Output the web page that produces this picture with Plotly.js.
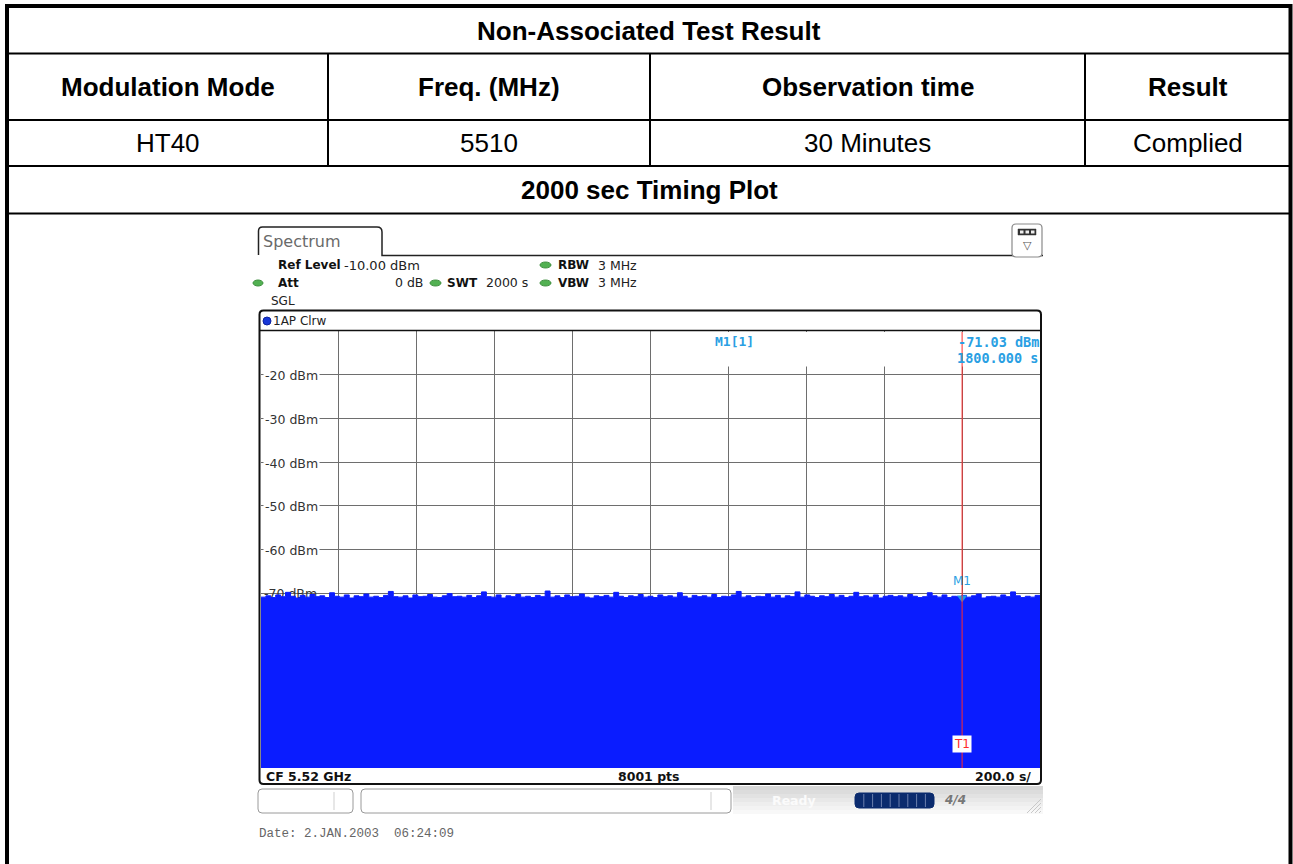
<!DOCTYPE html>
<html><head><meta charset="utf-8">
<script src="https://cdn.plot.ly/plotly-3.0.1.min.js"></script>
<style>html,body{margin:0;padding:0;background:#fff;overflow:hidden}#chart{width:1293px;height:864px}</style>
</head><body><div id="chart"></div>
<script>
// ---------------- data ----------------
const tableTitle = 'Non-Associated Test Result';
const headerLabels = ['Modulation Mode', 'Freq. (MHz)', 'Observation time', 'Result'];
const rowValues = ['HT40', '5510', '30 Minutes', 'Complied'];
const sectionTitle = '2000 sec Timing Plot';

const sweepTimeS = 2000;          // SWT
const timePerDivS = 200;          // 200.0 s/
const refLevelDbm = -10;          // Ref Level
const floorDbm = -110;            // bottom of the grid
const dbPerDiv = 10;
const yLabelValues = [-20, -30, -40, -50, -60, -70];
const yLabelTexts = ['-20 dBm', '-30 dBm', '-40 dBm', '-50 dBm', '-60 dBm', '-70 dBm'];

const markerTimeS = 1800;
const markerLevelDbm = -71.03;

// noise floor trace (dBm), evenly spread over the 2000 s sweep
const traceDbm = [
-70.9,-70.6,-71.0,-70.4,-70.8,-69.8,-70.7,-71.1,-70.5,-70.9,
-70.3,-70.8,-70.6,-71.0,-69.9,-70.7,-70.9,-70.4,-71.1,-70.6,
-70.8,-70.2,-70.9,-70.7,-71.0,-70.5,-69.6,-70.8,-70.9,-70.6,
-71.1,-70.4,-70.8,-70.7,-70.3,-70.9,-71.0,-70.6,-70.1,-70.8,
-70.7,-70.9,-70.5,-71.0,-70.6,-69.7,-70.8,-70.9,-70.4,-71.1,
-70.6,-70.8,-70.3,-70.9,-70.7,-71.0,-70.5,-70.8,-69.5,-70.9,
-70.6,-71.0,-70.4,-70.8,-70.7,-70.2,-70.9,-71.1,-70.6,-70.8,
-70.5,-70.9,-69.8,-70.7,-71.0,-70.6,-70.8,-70.3,-70.9,-70.7,
-71.0,-70.4,-70.8,-70.6,-70.9,-69.9,-70.7,-71.1,-70.5,-70.8,
-70.6,-70.9,-70.3,-71.0,-70.7,-70.8,-70.4,-69.6,-70.9,-70.6,
-71.0,-70.7,-70.8,-70.2,-70.9,-70.5,-71.1,-70.6,-70.8,-69.7,
-70.9,-70.4,-70.7,-71.0,-70.6,-70.8,-70.3,-70.9,-70.5,-71.0,
-70.7,-69.8,-70.8,-70.6,-70.9,-70.4,-71.1,-70.7,-70.5,-70.8,
-70.6,-70.9,-70.3,-70.7,-71.0,-70.8,-69.9,-70.6,-70.9,-70.4,
-71.0,-70.7,-70.8,-70.5,-70.9,-70.6,-70.2,-71.1,-70.8,-70.7,
-70.9,-70.4,-70.8,-69.7,-70.6,-71.0,-70.7,-70.9,-70.5,-70.8
];

// ---------------- geometry helpers ----------------
const FIG_W = 1293, FIG_H = 864;
const PL = 261, PR = 1040, PT = 331, PB = 768;   // plot area in pixels
const PW = PR - PL, PH = PB - PT;
const px = x => (x - PL) / PW;
const py = y => 1 - (y - PT) / PH;

const TABLE_FONT = 'Liberation Sans, Arial, sans-serif';
const UI_FONT = 'DejaVu Sans, Verdana, sans-serif';
const MONO_FONT = 'Liberation Mono, Courier New, monospace';
const TABLE_SIZE = 26;

const shapes = [];
const annotations = [];

function line(x0, y0, x1, y1, color, width, layer) {
  shapes.push({type: 'line', xref: 'paper', yref: 'paper', x0: px(x0), y0: py(y0), x1: px(x1), y1: py(y1),
    line: {color: color, width: width}, layer: layer || 'above'});
}
function rect(x0, y0, x1, y1, fill, lineColor, lineWidth, layer) {
  shapes.push({type: 'rect', xref: 'paper', yref: 'paper', x0: px(x0), y0: py(y0), x1: px(x1), y1: py(y1),
    fillcolor: fill, line: {color: lineColor || 'rgba(0,0,0,0)', width: lineWidth || 0}, layer: layer || 'above'});
}
function ellipse(x0, y0, x1, y1, fill, lineColor) {
  shapes.push({type: 'circle', xref: 'paper', yref: 'paper', x0: px(x0), y0: py(y0), x1: px(x1), y1: py(y1),
    fillcolor: fill, line: {color: lineColor || fill, width: 1}, layer: 'above'});
}
function roundRectPath(x0, y0, x1, y1, r) {
  const P = (x, y) => px(x) + ',' + py(y);
  return 'M' + P(x0 + r, y0) + ' L' + P(x1 - r, y0) + ' Q' + P(x1, y0) + ' ' + P(x1, y0 + r) +
    ' L' + P(x1, y1 - r) + ' Q' + P(x1, y1) + ' ' + P(x1 - r, y1) +
    ' L' + P(x0 + r, y1) + ' Q' + P(x0, y1) + ' ' + P(x0, y1 - r) +
    ' L' + P(x0, y0 + r) + ' Q' + P(x0, y0) + ' ' + P(x0 + r, y0) + ' Z';
}
function roundRect(x0, y0, x1, y1, r, fill, lineColor, width) {
  shapes.push({type: 'path', xref: 'paper', yref: 'paper', path: roundRectPath(x0, y0, x1, y1, r),
    fillcolor: fill, line: {color: lineColor, width: width}, layer: 'above'});
}
function text(x, y, t, size, color, family, anchor, extra) {
  annotations.push(Object.assign({xref: 'paper', yref: 'paper', x: px(x), y: py(y), text: t, showarrow: false,
    xanchor: anchor || 'left', yanchor: 'middle', borderpad: 0,
    font: {family: family || UI_FONT, size: size, color: color || '#000'}}, extra || {}));
}

// ---------------- table ----------------
const colEdges = [7, 328, 650, 1085, 1290.5];
const rowEdges = [6, 53.5, 120, 166, 213.5];
line(7, 6, 1290.5, 6, '#000', 4);
line(7, 4, 7, 880, '#000', 4);
line(1290.5, 4, 1290.5, 880, '#000', 4);
for (let i = 1; i < rowEdges.length; i++) line(7, rowEdges[i], 1290.5, rowEdges[i], '#000', 2);
for (let i = 1; i < colEdges.length - 1; i++) line(colEdges[i], rowEdges[1], colEdges[i], rowEdges[3], '#000', 2);

text(649, (rowEdges[0] + rowEdges[1]) / 2 + 1, '<b>' + tableTitle + '</b>', TABLE_SIZE, '#000', TABLE_FONT, 'center');
headerLabels.forEach((h, i) => text((colEdges[i] + colEdges[i + 1]) / 2, (rowEdges[1] + rowEdges[2]) / 2, '<b>' + h + '</b>', TABLE_SIZE, '#000', TABLE_FONT, 'center'));
rowValues.forEach((v, i) => text((colEdges[i] + colEdges[i + 1]) / 2, (rowEdges[2] + rowEdges[3]) / 2, v, TABLE_SIZE, '#000', TABLE_FONT, 'center'));
text(649, (rowEdges[3] + rowEdges[4]) / 2, '<b>' + sectionTitle + '</b>', TABLE_SIZE, '#000', TABLE_FONT, 'center');

// ---------------- analyzer screenshot chrome ----------------
(function () {
  const P = (x, y) => px(x) + ',' + py(y);
  shapes.push({type: 'path', xref: 'paper', yref: 'paper', layer: 'above',
    path: 'M' + P(258.5, 255) + ' L' + P(258.5, 231) + ' Q' + P(258.5, 227) + ' ' + P(262.5, 227) +
      ' L' + P(377, 227) + ' Q' + P(382, 227) + ' ' + P(382, 232) + ' L' + P(382, 255.5) + ' L' + P(1043, 255.5),
    line: {color: '#222', width: 1.5}});
})();
text(262, 241, 'Spectrum', 16, '#6a6a6a', UI_FONT, 'left');
roundRect(1012, 224, 1042, 257, 4, '#ffffff', '#8a8a8a', 1.2);
rect(1018, 229, 1036, 235, '#333', '#333', 0.5);
for (let k = 0; k < 3; k++) rect(1020 + k * 5.5, 230.5, 1023.5 + k * 5.5, 233.5, '#eee', '#eee', 0);
text(1027, 245, '▽', 11, '#555', UI_FONT, 'center');

const green = '#52b152';
text(277, 265, '<b>Ref Level</b>', 12, '#111');
text(343, 265, '-10.00 dBm', 13, '#222');
ellipse(540, 262, 551, 268, green, '#3e8f3e');
text(557, 265, '<b>RBW</b>', 12, '#111');
text(597, 265, '3 MHz', 12.5, '#222');
ellipse(253, 280, 263, 286, green, '#3e8f3e');
text(277, 283, '<b>Att</b>', 12, '#111');
text(394, 283, '0 dB', 12.5, '#222');
ellipse(430, 280, 441, 286, green, '#3e8f3e');
text(446, 283, '<b>SWT</b>', 12, '#111');
text(485, 283, '2000 s', 12.5, '#222');
ellipse(540, 280, 551, 286, green, '#3e8f3e');
text(557, 283, '<b>VBW</b>', 12, '#111');
text(597, 283, '3 MHz', 12.5, '#222');
text(270, 301, 'SGL', 12, '#222');

roundRect(259.5, 310.5, 1041, 784, 4, 'rgba(0,0,0,0)', '#111', 2);
line(259.5, 330.5, 1041, 330.5, '#111', 1.5);
ellipse(263, 317, 271, 325, '#1838d8', '#0d22a0');
text(272, 321, '1AP Clrw', 12, '#222');

rect(652, 332, 1040, 366.5, '#ffffff', '#ffffff', 0, 'above');
shapes.push({type: 'line', xref: 'x', yref: 'paper', x0: markerTimeS, x1: markerTimeS, y0: py(PT + 1), y1: py(PB),
  line: {color: '#ff2a2a', width: 1}, layer: 'above'});
const mkBlue = '#2a9fe3';
text(714, 341, '<b>M1[1]</b>', 13, mkBlue, 'DejaVu Sans Mono, monospace', 'left');
text(1040, 342, '<b>' + markerLevelDbm.toFixed(2) + ' dBm</b>', 13.5, mkBlue, 'DejaVu Sans Mono, monospace', 'right');
text(1039, 358, '<b>' + markerTimeS.toFixed(3) + ' s</b>', 13.5, mkBlue, 'DejaVu Sans Mono, monospace', 'right');

yLabelValues.forEach((v, i) => {
  if (v === -70) return;
  annotations.push({xref: 'paper', yref: 'y', x: px(263), y: v, yshift: -1, text: yLabelTexts[i], showarrow: false,
    xanchor: 'left', yanchor: 'middle', bgcolor: '#ffffff', borderpad: 1,
    font: {family: UI_FONT, size: 12.5, color: '#333'}});
});

annotations.push({xref: 'x', yref: 'paper', x: markerTimeS, y: py(744), text: 'T1', showarrow: false,
  xanchor: 'center', yanchor: 'middle', bgcolor: '#ffffff', borderpad: 1,
  font: {family: UI_FONT, size: 12, color: '#ff2a2a'}});
annotations.push({xref: 'x', yref: 'y', x: markerTimeS, y: markerLevelDbm, yshift: 17, text: 'M1', showarrow: false,
  xanchor: 'center', yanchor: 'middle', font: {family: UI_FONT, size: 12, color: mkBlue}});

text(265, 776, '<b>CF 5.52 GHz</b>', 12.5, '#111');
text(649, 776, '<b>' + '8001 pts' + '</b>', 12.5, '#111', UI_FONT, 'center');
text(1032, 776, '<b>' + timePerDivS.toFixed(1) + ' s/</b>', 12.5, '#111', UI_FONT, 'right');

const bands = ['#d6d6d6', '#dcdcdc', '#e2e2e2', '#e8e8e8', '#eeeeee', '#f3f3f3', '#f8f8f8'];
bands.forEach((c, k) => rect(733, 786 + k * 4, 1043, 790 + k * 4, c, c, 0));
roundRect(258, 789, 353, 813, 4, '#ffffff', '#9a9a9a', 1);
line(334, 792, 334, 810, '#cfcfcf', 1);
roundRect(361, 789, 731, 813, 4, '#ffffff', '#9a9a9a', 1);
line(711, 792, 711, 810, '#cfcfcf', 1);
text(794, 800, '<b>Ready</b>', 12.5, '#fbfbfb', UI_FONT, 'center');
roundRect(855, 793, 934, 808, 4, '#0b2b6e', '#0b2b6e', 1);
for (let k = 1; k < 9; k++) line(855 + k * 8.8, 794, 855 + k * 8.8, 807, '#6b7fae', 1);
text(955, 800, '<b><i>4/4</i></b>', 12, '#777', UI_FONT, 'center');
for (let k = 0; k < 4; k++) line(1027 + k * 4, 813, 1041, 799 + k * 4, '#c8c8c8', 1);

text(258, 834, 'Date: 2.JAN.2003  06:24:09', 12.5, '#666', MONO_FONT, 'left');

// ---------------- traces ----------------
const times = traceDbm.map((_, i) => i * sweepTimeS / (traceDbm.length - 1));
const traceColor = '#0a1cff';
const traces = [
  {x: times, y: times.map(() => floorDbm), type: 'scatter', mode: 'lines', line: {width: 0, color: traceColor},
    hoverinfo: 'skip', showlegend: false},
  {x: times, y: traceDbm, type: 'scatter', mode: 'lines', fill: 'tonexty', fillcolor: traceColor,
    line: {color: traceColor, width: 1, shape: 'hv'}, hoverinfo: 'skip', showlegend: false},
  {x: [markerTimeS], y: [markerLevelDbm], type: 'scatter', mode: 'markers',
    marker: {symbol: 'triangle-down', size: 9, color: '#1e9be6'}, hoverinfo: 'skip', showlegend: false}
];

const gridVals = [];
for (let v = floorDbm + dbPerDiv; v < refLevelDbm; v += dbPerDiv) gridVals.push(v);

const layout = {
  width: FIG_W, height: FIG_H,
  margin: {l: PL, r: FIG_W - PR, t: PT, b: FIG_H - PB, pad: 0},
  paper_bgcolor: '#ffffff', plot_bgcolor: '#ffffff',
  showlegend: false,
  xaxis: {range: [0, sweepTimeS], tick0: 0, dtick: timePerDivS, showgrid: true, gridcolor: '#6e6e6e', gridwidth: 1,
    showticklabels: false, ticks: '', zeroline: false, showline: false, fixedrange: true},
  yaxis: {range: [floorDbm, refLevelDbm], tickmode: 'array', tickvals: gridVals,
    ticktext: gridVals.map(v => v === -70 ? yLabelTexts[yLabelValues.indexOf(-70)] : ''),
    ticklabelposition: 'inside', layer: 'below traces', ticks: '', showgrid: true, gridcolor: '#6e6e6e', gridwidth: 1,
    tickfont: {family: UI_FONT, size: 12.5, color: '#333'}, zeroline: false, showline: false, fixedrange: true},
  shapes: shapes,
  annotations: annotations
};

Plotly.newPlot('chart', traces, layout, {displayModeBar: false, staticPlot: true});
</script>
</body></html>
